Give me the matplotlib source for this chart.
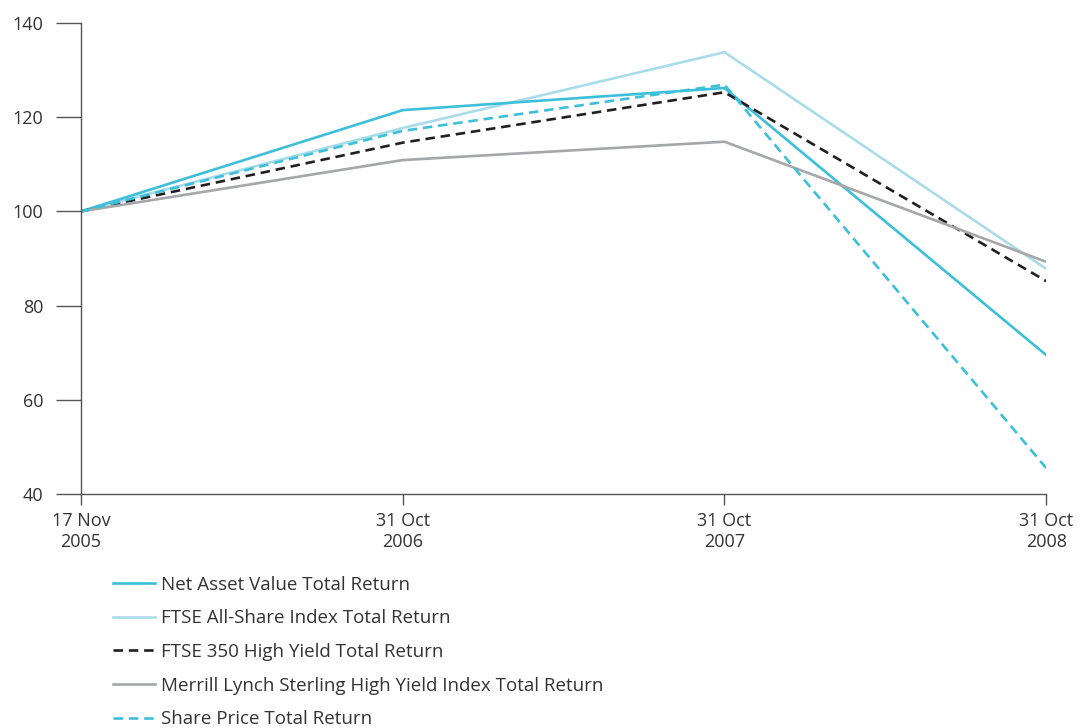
import matplotlib.pyplot as plt
import numpy as np

plt.rcParams['font.family'] = ['Open Sans', 'DejaVu Sans']

# fechas (eje categorico)
dates = ["17 Nov\n2005", "31 Oct\n2006", "31 Oct\n2007", "31 Oct\n2008"]

nav = [100, 121.5, 126.2, 69.5]
ftse_all = [100, 117.7, 133.8, 87.8]
ftse_350 = [100, 114.6, 125.3, 85.2]
merrill = [100, 110.9, 114.8, 89.3]
share_price = [100, 117.1, 126.9, 45.5]

yticks = [40, 60, 80, 100, 120, 140]

x = np.arange(len(dates))

fig = plt.figure(figsize=(10.83, 7.28), dpi=100)
ax = fig.add_axes([0.0748, 0.3214, 0.8912, 0.6470])

lw = 1.9
l1, = ax.plot(x, nav, color="#3dbfd9", lw=lw, label="Net Asset Value Total Return")
l2, = ax.plot(x, ftse_all, color="#a9dcea", lw=lw, label="FTSE All-Share Index Total Return")
l3, = ax.plot(x, ftse_350, color="#231f20", lw=lw, ls=(0, (3.6, 2.2)),
              label="FTSE 350 High Yield Total Return")
l4, = ax.plot(x, merrill, color="#a6a7a9", lw=lw,
              label="Merrill Lynch Sterling High Yield Index Total Return")
l5, = ax.plot(x, share_price, color="#3dbfd9", lw=lw, ls=(0, (3.6, 2.2)),
              label="Share Price Total Return")
l2.set_zorder(1)

ax.set_xlim(x[0], x[-1])
ax.set_ylim(40, 140)
ax.set_yticks(yticks)
ax.set_xticks(x)
ax.set_xticklabels(dates)

for s in ["top", "right"]:
    ax.spines[s].set_visible(False)
for s in ["left", "bottom"]:
    ax.spines[s].set_color("#555555")
    ax.spines[s].set_linewidth(1.0)

ax.tick_params(axis="y", length=18, width=1.0, color="#555555", pad=9,
               labelsize=13, labelcolor="#333333")
ax.tick_params(axis="x", length=8, width=1.0, color="#555555", pad=5,
               labelsize=13, labelcolor="#333333")

fig.legend(handles=[l1, l2, l3, l4, l5], loc="upper left",
           bbox_to_anchor=(0.1043, 0.209), frameon=False, fontsize=13.5,
           handlelength=2.25, handletextpad=0.3, labelspacing=0.83,
           borderpad=0, borderaxespad=0, labelcolor="#333333")

fig.savefig("out.png", dpi=100)
